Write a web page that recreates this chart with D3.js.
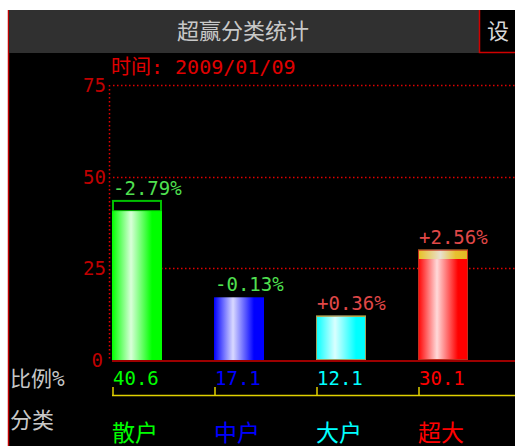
<!DOCTYPE html>
<html>
<head>
<meta charset="utf-8">
<script src="https://cdn.jsdelivr.net/npm/d3@7"></script>
<style>
  body { margin: 0; background: #fff; }
  svg { display: block; }
  text { font-family: "DejaVu Sans Mono", "Noto Sans CJK SC", monospace; }
</style>
</head>
<body>
<svg></svg>
<script>
// data
const categories = ['散户', '中户', '大户', '超大'];
const ratios = [40.6, 17.1, 12.1, 30.1];
const changes = [-2.79, -0.13, 0.36, 2.56];
const colors = ['#00ff00', '#0000ff', '#00ffff', '#ff0000'];
const yTicks = [0, 25, 50, 75];
const title = '超赢分类统计';
const dateText = '时间: 2009/01/09';

const size = {w: 515, h: 446};
const svg = d3.select('svg').attr('width', size.w).attr('height', size.h);

// panel background
svg.append('rect').attr('x', 8).attr('y', 10).attr('width', size.w - 8).attr('height', size.h - 10)
    .attr('fill', '#000');
svg.append('line').attr('x1', 8.5).attr('x2', 8.5).attr('y1', 10).attr('y2', size.h)
    .attr('stroke', '#c00000').attr('stroke-width', 1.5);

// title bar
svg.append('rect').attr('x', 9).attr('y', 10).attr('width', 470).attr('height', 43)
    .attr('fill', '#303030');
svg.append('text').attr('x', 243).attr('y', 39).attr('text-anchor', 'middle')
    .attr('fill', '#c8c8c8').style('font-size', '22px').text(title);
svg.append('path').attr('d', 'M479.5,10 V52.5 H515')
    .attr('fill', 'none').attr('stroke', '#d00000').attr('stroke-width', 1.5);
svg.append('text').attr('x', 487).attr('y', 39)
    .attr('fill', '#d8d8d8').style('font-size', '22px').text('设');

// date
svg.append('text').attr('x', 111).attr('y', 74)
    .attr('fill', '#e00000').style('font-size', '20px').text(dateText);

// scales
const y = d3.scaleLinear().domain([0, 75]).range([360, 85]);
const x = d3.scaleBand().domain(categories).range([112, 520]).paddingInner(0).paddingOuter(0);
const barW = 50;

// grid lines (dotted)
svg.append('g').selectAll('line').data(yTicks.filter(d => d > 0)).join('line')
    .attr('x1', 113).attr('x2', size.w)
    .attr('y1', d => Math.round(y(d)) + 0.5).attr('y2', d => Math.round(y(d)) + 0.5)
    .attr('stroke', '#e00000').attr('stroke-width', 1.5).attr('stroke-dasharray', '1.5,2.5');

// y axis (dotted)
svg.append('line').attr('x1', 109.5).attr('x2', 109.5).attr('y1', y(75)).attr('y2', y(0))
    .attr('stroke', '#e00000').attr('stroke-width', 1.5).attr('stroke-dasharray', '1.5,2.5');

// tick labels
svg.append('g').selectAll('text').data(yTicks).join('text')
    .attr('x', d => d === 0 ? 103 : 106).attr('y', d => y(d) + 7)
    .attr('text-anchor', 'end').attr('fill', '#c00000').style('font-size', '19px')
    .text(d => d);

// gradients
const defs = svg.append('defs');
colors.forEach((c, i) => {
    let g = defs.append('linearGradient').attr('id', 'grad' + i)
        .attr('x1', '0%').attr('x2', '100%').attr('y1', '0%').attr('y2', '0%');
    g.append('stop').attr('offset', '0%').attr('stop-color', c);
    g.append('stop').attr('offset', '38%').attr('stop-color', d3.interpolateRgb(c, '#fff')(0.85));
    g.append('stop').attr('offset', '80%').attr('stop-color', c);
    g.append('stop').attr('offset', '100%').attr('stop-color', c);
});
let gy = defs.append('linearGradient').attr('id', 'gradY')
    .attr('x1', '0%').attr('x2', '100%').attr('y1', '0%').attr('y2', '0%');
gy.append('stop').attr('offset', '0%').attr('stop-color', '#e8c020');
gy.append('stop').attr('offset', '45%').attr('stop-color', '#e8e0d0');
gy.append('stop').attr('offset', '75%').attr('stop-color', '#e8c030');
gy.append('stop').attr('offset', '100%').attr('stop-color', '#e0b820');

// bars
const bars = svg.append('g');
categories.forEach((cat, i) => {
    let x0 = x(cat);
    let v = ratios[i];
    let ch = changes[i];
    let g = bars.append('g');
    if (ch < 0) {
        // previous value shown as outline box above the bar
        let h = y(v) - y(v - ch);
        if (h >= 2) {
            g.append('rect').attr('x', x0 + 1).attr('y', y(v - ch))
                .attr('width', barW - 2).attr('height', h)
                .attr('fill', '#000').attr('stroke', '#00c000').attr('stroke-width', 2);
        }
        g.append('rect').attr('x', x0).attr('y', y(v)).attr('width', barW)
            .attr('height', y(0) - y(v)).attr('fill', `url(#grad${i})`);
    } else {
        g.append('rect').attr('x', x0).attr('y', y(v - ch)).attr('width', barW)
            .attr('height', y(0) - y(v - ch)).attr('fill', `url(#grad${i})`);
        g.append('rect').attr('x', x0).attr('y', y(v)).attr('width', barW)
            .attr('height', y(v - ch) - y(v)).attr('fill', 'url(#gradY)');
        g.append('rect').attr('x', x0 + 0.5).attr('y', y(v) + 0.5).attr('width', barW - 1)
            .attr('height', y(0) - y(v) - 1).attr('fill', 'none')
            .attr('stroke', i === 3 ? '#c03020' : '#a0a060').attr('stroke-width', 1);
    }
    let top = Math.min(y(v), y(v - ch));
    g.append('text').attr('x', x0 + 1).attr('y', top - 6)
        .attr('fill', ch < 0 ? '#50e050' : '#e04848').style('font-size', '19px')
        .text((ch < 0 ? '' : '+') + ch.toFixed(2) + '%');
});

// baseline
svg.append('line').attr('x1', 112).attr('x2', size.w).attr('y1', 361).attr('y2', 361)
    .attr('stroke', '#d00000').attr('stroke-width', 1.5);

// bottom labels
svg.append('text').attr('x', 10).attr('y', 386).attr('fill', '#c8c8c8')
    .style('font-size', '21px').text('比例%');
svg.append('text').attr('x', 10).attr('y', 428).attr('fill', '#c8c8c8')
    .style('font-size', '22px').text('分类');

svg.append('g').selectAll('text').data(ratios).join('text')
    .attr('x', (d, i) => x(categories[i]) + 1).attr('y', 385)
    .attr('fill', (d, i) => colors[i]).style('font-size', '19px')
    .text(d => d.toFixed(1));

// yellow bracket
svg.append('line').attr('x1', 112).attr('x2', size.w).attr('y1', 395.5).attr('y2', 395.5)
    .attr('stroke', '#e0d000').attr('stroke-width', 1.5);
svg.append('g').selectAll('line').data(categories).join('line')
    .attr('x1', d => x(d) + 1).attr('x2', d => x(d) + 1)
    .attr('y1', 387).attr('y2', 395)
    .attr('stroke', '#e0d000').attr('stroke-width', 1.5);

svg.append('g').selectAll('text').data(categories).join('text')
    .attr('x', d => x(d)).attr('y', 441)
    .attr('fill', (d, i) => colors[i]).style('font-size', '23px')
    .text(d => d);
</script>
</body>
</html>
